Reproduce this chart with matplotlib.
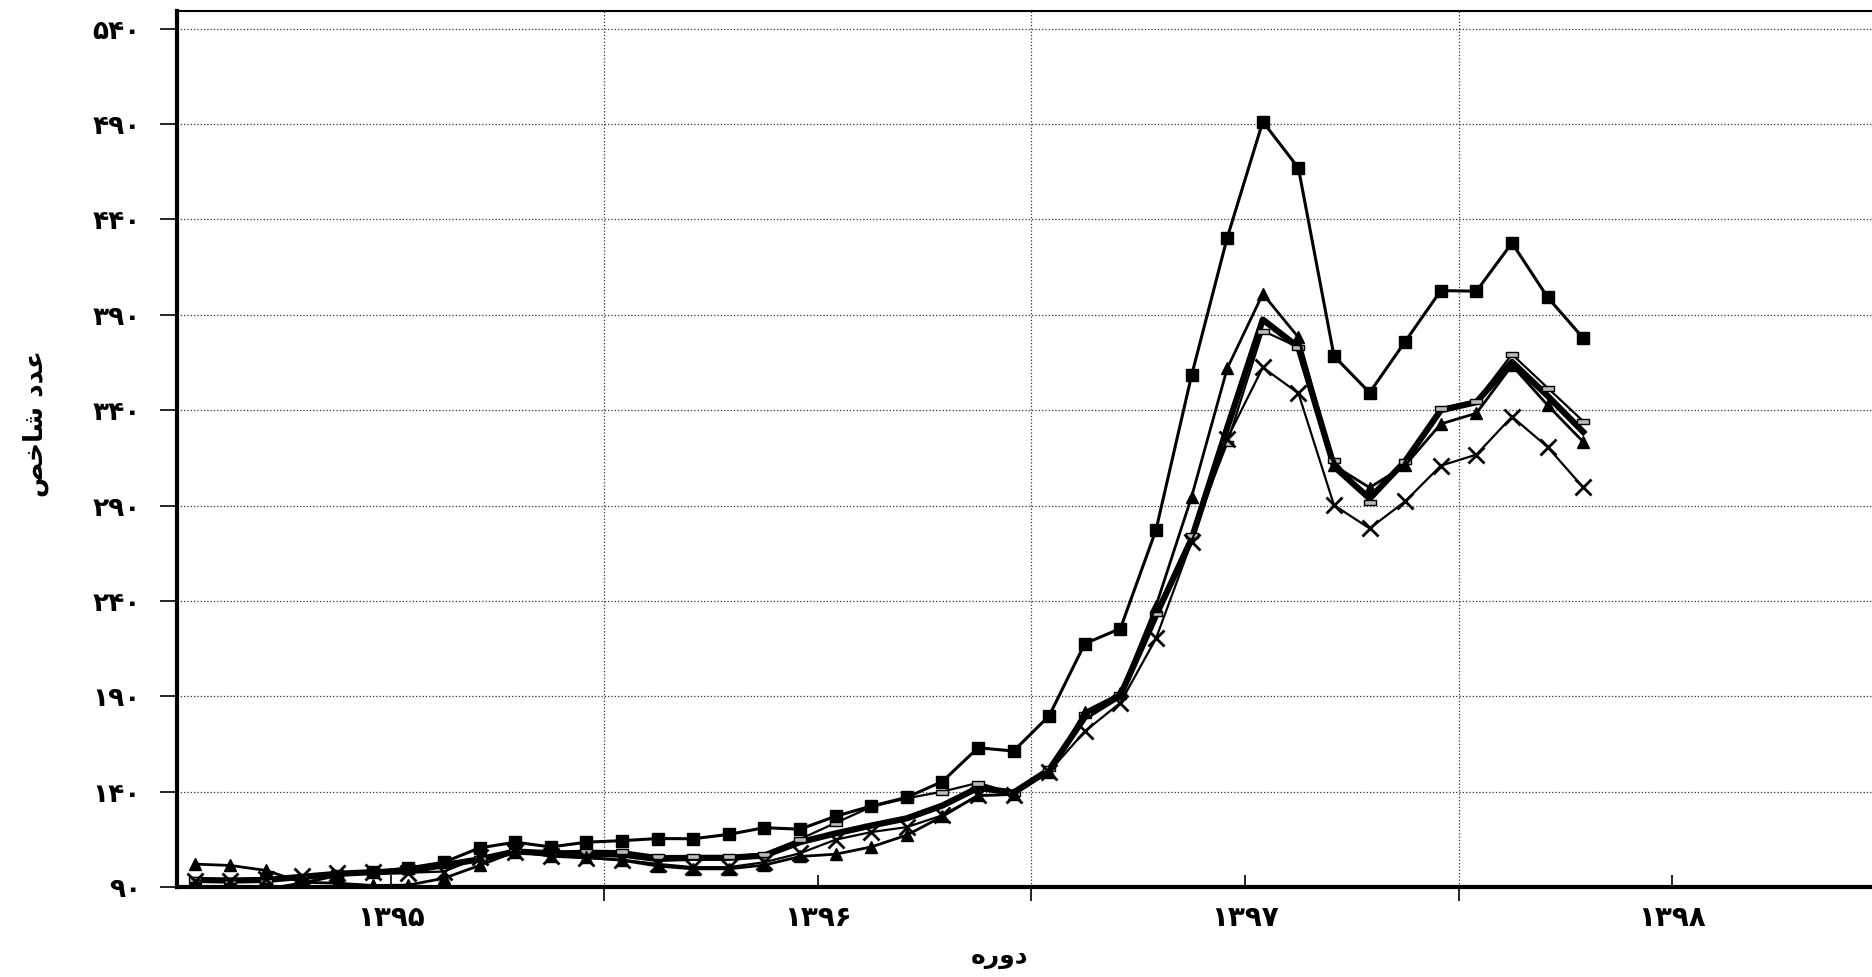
## index numbers by month, 1395 to early 1398
import numpy as np
import matplotlib.pyplot as plt
from matplotlib.path import Path

## data (monthly, starting Farvardin 1395)
squares = [88.8, 88.5, 88.8, 92.0, 96.0, 98.0, 100.0, 103.0, 110.5, 113.5, 111.0, 113.5,
           114.3, 115.4, 115.3, 117.6, 121.1, 120.3, 127.1, 132.4, 137.0, 145.3, 163.0, 161.3,
           179.8, 217.6, 225.5, 277.2, 358.3, 430.4, 491.3, 467.0, 368.4, 349.2, 376.0, 402.7,
           402.4, 427.7, 399.2, 377.8]
triangles = [102.0, 101.3, 98.7, 92.5, 92.0, 90.8, 91.0, 94.6, 101.3, 108.5, 106.5, 105.5,
             104.0, 101.0, 99.5, 99.5, 101.5, 106.0, 107.2, 111.0, 117.2, 127.0, 138.0, 138.5,
             150.5, 182.0, 191.5, 237.4, 294.6, 361.9, 401.0, 378.2, 311.0, 299.4, 311.1, 332.8,
             338.4, 363.5, 342.6, 323.4]
crosses = [93.4, 93.4, 94.0, 95.8, 97.2, 97.8, 97.5, 98.1, 105.6, 108.6, 106.0, 105.1,
           104.3, 102.1, 100.4, 100.4, 103.0, 107.7, 114.8, 118.8, 121.4, 127.6, 138.0, 138.4,
           150.5, 171.6, 186.6, 220.3, 271.0, 325.1, 362.4, 348.9, 290.2, 278.0, 292.2, 310.9,
           316.7, 336.6, 320.7, 299.5]
dashes = [94.0, 93.6, 93.9, 95.2, 96.8, 97.7, 98.5, 102.5, 105.0, 109.0, 108.5, 109.0,
          108.8, 106.2, 106.3, 106.0, 107.5, 115.1, 123.6, 132.0, 136.5, 140.0, 144.6, 139.2,
          152.5, 180.5, 191.0, 233.5, 274.5, 322.7, 381.6, 373.0, 313.7, 292.0, 313.5, 341.0,
          345.0, 369.3, 351.7, 334.2]
total = [93.7, 93.4, 93.7, 95.3, 96.9, 97.8, 98.3, 101.5, 104.5, 108.6, 107.7, 107.3,
         107.0, 104.7, 105.3, 105.3, 106.5, 113.5, 118.1, 122.2, 126.0, 132.7, 142.0, 139.5,
         151.5, 179.0, 190.5, 232.4, 272.5, 330.8, 387.5, 373.0, 310.5, 293.7, 313.3, 340.0,
         344.2, 365.3, 347.5, 328.6]

years = ['۱۳۹۵', '۱۳۹۶', '۱۳۹۷', '۱۳۹۸']
yticks = [90, 140, 190, 240, 290, 340, 390, 440, 490, 540]
ytick_labels = ['۹۰', '۱۴۰', '۱۹۰', '۲۴۰', '۲۹۰', '۳۴۰', '۳۹۰', '۴۴۰', '۴۹۰', '۵۴۰']

# persian labels written in presentation forms, visual order (matplotlib has no shaping)
ylabel_txt = 'ﺺﺧﺎﺷ ﺩﺪﻋ'   # عدد شاخص
xlabel_txt = 'ﻩﺭﻭﺩ'        # دوره

plt.rcParams['font.family'] = ['DejaVu Sans']
plt.rcParams['font.weight'] = 'bold'

fig = plt.figure(figsize=(18.72, 9.77), dpi=100)
ax = fig.add_axes([177 / 1872, 1 - 887 / 977, 1 - 177 / 1872, (887 - 11) / 977])

x = np.arange(len(squares))
rect = Path([(-1, -0.45), (1, -0.45), (1, 0.45), (-1, 0.45), (-1, -0.45)],
            [Path.MOVETO, Path.LINETO, Path.LINETO, Path.LINETO, Path.CLOSEPOLY])

ax.plot(x, total, color='black', lw=4.5, zorder=3)
ax.plot(x, dashes, color='black', lw=1.6, marker=rect, ms=8, mfc='#bbbbbb', mec='black',
        mew=1.0, zorder=4)
ax.plot(x, triangles, color='black', lw=2, marker='^', ms=8, zorder=4)
ax.plot(x, crosses, color='black', lw=1.6, marker='x', ms=11, mew=2, zorder=5)
ax.plot(x, squares, color='black', lw=2.2, marker='s', ms=8, zorder=6)

## axes
ax.set_xlim(-0.5, -0.5 + (1872 - 177) / 35.6)
ax.set_ylim(90, 549.3)

ax.set_yticks(yticks)
ax.set_yticklabels(ytick_labels, fontsize=19, fontweight='bold')
ax.tick_params(axis='y', direction='out', length=12, width=1.2, pad=14)

ax.set_xticks([11.5, 23.5, 35.5])
ax.set_xticklabels([])
ax.tick_params(axis='x', which='major', direction='out', length=10, width=1.2)
ax.set_xticks([5.5, 17.5, 29.5, 41.5], minor=True)
ax.set_xticklabels(years, minor=True, fontsize=20, fontweight='bold')
ax.tick_params(axis='x', which='minor', direction='in', length=9, width=1.2, pad=12)

ax.grid(True, which='major', linestyle=':', color='#333333', lw=0.9)
ax.set_axisbelow(True)

ax.spines['left'].set_linewidth(3)
ax.spines['bottom'].set_linewidth(3)
ax.spines['top'].set_linewidth(1.5)
ax.spines['right'].set_visible(False)

fig.text(36 / 1872, 1 - 424 / 977, ylabel_txt, rotation=90, ha='center', va='center',
         fontsize=19, fontweight='bold')
fig.text(1000 / 1872, 1 - 957 / 977, xlabel_txt, ha='center', va='center',
         fontsize=18, fontweight='bold')

plt.savefig('out.png', dpi=100)
